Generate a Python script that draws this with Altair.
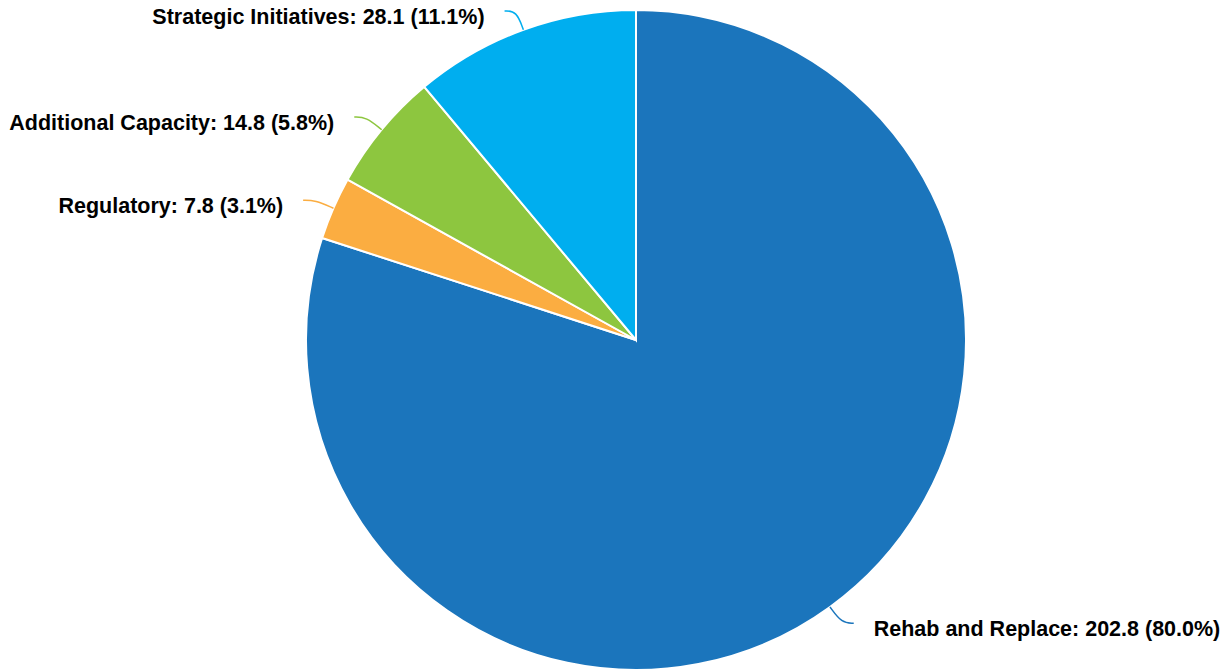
import altair as alt
import pandas as pd

categories = ["Rehab and Replace", "Regulatory", "Additional Capacity", "Strategic Initiatives"]
values = [202.8, 7.8, 14.8, 28.1]
colors = ["#1B75BC", "#FBAD41", "#8DC63F", "#00AEEF"]

df = pd.DataFrame({"cat": categories, "value": values, "idx": list(range(len(values)))})

CX, CY, R = 628, 332, 330
FONT = "Liberation Sans"

color_enc = alt.Color("cat:N", scale=alt.Scale(domain=categories, range=colors), legend=None)

base = alt.Chart(df).transform_joinaggregate(
    total="sum(value)"
).transform_window(
    cum="sum(value)", sort=[alt.SortField("idx")], frame=[None, 0]
).transform_calculate(
    mid="(datum.cum - datum.value/2) / datum.total * 2 * PI",
    label="datum.cat + ': ' + format(datum.value, '.1f') + ' (' + format(datum.value / datum.total * 100, '.1f') + '%)'",
    side="sin(datum.mid) >= 0 ? 1 : -1",
    p0x=f"{CX} + {R} * sin(datum.mid)",
    p0y=f"{CY} - {R} * cos(datum.mid)",
).transform_calculate(
    p1x=f"{CX} + {R + 20} * sin(datum.mid)",
    p1y=f"{CY} - {R + 20} * cos(datum.mid)",
).transform_calculate(
    p2x="datum.p1x + datum.side * 12",
    p2y="datum.p1y",
)

arcs = alt.Chart(df).mark_arc(outerRadius=R, stroke="white", strokeWidth=2).encode(
    theta=alt.Theta("value:Q", stack=True),
    color=color_enc,
    order=alt.Order("idx:Q"),
    x=alt.value(CX),
    y=alt.value(CY),
)

connectors = base.transform_calculate(
    pts="[0, 1, 2]"
).transform_flatten(["pts"]).transform_calculate(
    lx="datum.pts == 0 ? datum.p0x : (datum.pts == 1 ? datum.p1x : datum.p2x)",
    ly="datum.pts == 0 ? datum.p0y : (datum.pts == 1 ? datum.p1y : datum.p2y)",
).mark_line(interpolate="basis", strokeWidth=1.5).encode(
    x=alt.X("lx:Q", scale=None, axis=None),
    y=alt.Y("ly:Q", scale=None, axis=None),
    detail="cat:N",
    order=alt.Order("pts:Q"),
    color=color_enc,
)

text_common = dict(font=FONT, fontSize=21.5, fontWeight="bold", baseline="middle", color="black")

right_labels = base.transform_filter("datum.side > 0").transform_calculate(
    tx="datum.p2x + 20", ty="datum.p2y + 7"
).mark_text(align="left", **text_common).encode(
    x=alt.X("tx:Q", scale=None, axis=None),
    y=alt.Y("ty:Q", scale=None, axis=None),
    text="label:N",
)

left_labels = base.transform_filter("datum.side < 0").transform_calculate(
    tx="datum.p2x - 20", ty="datum.p2y + 7"
).mark_text(align="right", **text_common).encode(
    x=alt.X("tx:Q", scale=None, axis=None),
    y=alt.Y("ty:Q", scale=None, axis=None),
    text="label:N",
)

chart = alt.layer(arcs, connectors, right_labels, left_labels).properties(
    width=1212, height=663, padding=0, autosize=alt.AutoSizeParams(type="none")
).configure_view(stroke=None)

chart.save("out.html", embed_options={"renderer": "svg", "actions": False})
